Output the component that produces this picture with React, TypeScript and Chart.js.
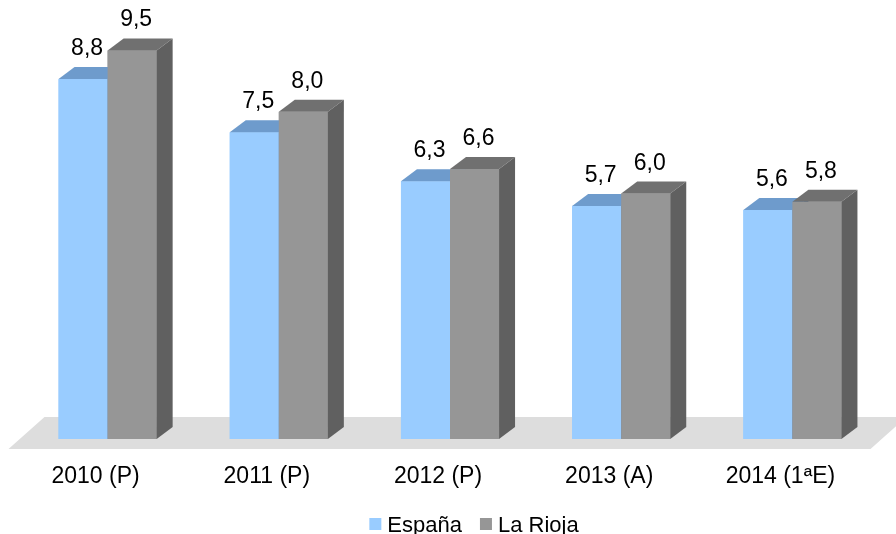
import React, { useEffect, useRef } from 'react';
import { Chart, registerables } from 'chart.js';

Chart.register(...registerables);

const categories = ['2010 (P)', '2011 (P)', '2012 (P)', '2013 (A)', '2014 (1ªE)'];
const espana = [8.8, 7.5, 6.3, 5.7, 5.6];
const laRioja = [9.5, 8.0, 6.6, 6.0, 5.8];
const seriesNames = ['España', 'La Rioja'];

const FONT = '"Liberation Sans", Arial, Helvetica, sans-serif';
const DX = 16;
const DY = 12;
const faces = [
  { front: '#99CCFF', top: '#6E9BCC', side: '#5D86B2' },
  { front: '#969696', top: '#707070', side: '#606060' },
];

const fmt = (v: number) => v.toFixed(1).replace('.', ',');

const bar3d = {
  id: 'bar3d',
  beforeDatasetsDraw(chart: any) {
    const { ctx, chartArea, scales } = chart;
    const base = scales.y.getPixelForValue(0);
    const l = chartArea.left;
    const r = chartArea.right;
    ctx.save();
    ctx.fillStyle = '#DDDDDD';
    ctx.beginPath();
    ctx.moveTo(l - 13.5, base + 10);
    ctx.lineTo(r - 7.5, base + 10);
    ctx.lineTo(r + 28.5, base - 22);
    ctx.lineTo(l + 22.5, base - 22);
    ctx.closePath();
    ctx.fill();
    ctx.restore();
  },
  afterDatasetsDraw(chart: any) {
    const ctx = chart.ctx;
    ctx.save();
    chart.data.datasets.forEach((ds: any, i: number) => {
      const meta = chart.getDatasetMeta(i);
      const c = faces[i];
      meta.data.forEach((el: any) => {
        const { x, y, base, width } = el.getProps(['x', 'y', 'base', 'width'], true);
        const L = x - width / 2;
        const R = x + width / 2;
        ctx.fillStyle = c.front;
        ctx.fillRect(L, y, width, base - y);
        ctx.fillStyle = c.top;
        ctx.beginPath();
        ctx.moveTo(L, y);
        ctx.lineTo(R, y);
        ctx.lineTo(R + DX, y - DY);
        ctx.lineTo(L + DX, y - DY);
        ctx.closePath();
        ctx.fill();
        ctx.fillStyle = c.side;
        ctx.beginPath();
        ctx.moveTo(R, y);
        ctx.lineTo(R + DX, y - DY);
        ctx.lineTo(R + DX, base - DY);
        ctx.lineTo(R, base);
        ctx.closePath();
        ctx.fill();
      });
    });
    ctx.font = `23px ${FONT}`;
    ctx.fillStyle = '#000000';
    ctx.textAlign = 'center';
    ctx.textBaseline = 'alphabetic';
    chart.data.datasets.forEach((ds: any, i: number) => {
      const meta = chart.getDatasetMeta(i);
      meta.data.forEach((el: any, j: number) => {
        const { x, y } = el.getProps(['x', 'y'], true);
        ctx.fillText(fmt(ds.data[j]), x + 4, y - DY - 12);
      });
    });
    ctx.restore();
  },
  afterDraw(chart: any) {
    const ctx = chart.ctx;
    ctx.save();
    ctx.font = `22px ${FONT}`;
    ctx.textBaseline = 'alphabetic';
    ctx.textAlign = 'left';
    const sq = 12;
    const gap = 6;
    const itemGap = 18;
    const widths = seriesNames.map((n) => ctx.measureText(n).width);
    const total = widths.reduce((a, w) => a + sq + gap + w, 0) + itemGap * (seriesNames.length - 1);
    let x = 474 - total / 2;
    const baseline = 531.5;
    seriesNames.forEach((n, i) => {
      ctx.fillStyle = faces[i].front;
      ctx.fillRect(x, 518, sq, sq);
      x += sq + gap;
      ctx.fillStyle = '#000000';
      ctx.fillText(n, x, baseline);
      x += widths[i] + itemGap;
    });
    ctx.restore();
  },
};

export default function App() {
  const ref = useRef<HTMLCanvasElement>(null);
  useEffect(() => {
    const chart = new Chart(ref.current as HTMLCanvasElement, {
      type: 'bar',
      data: {
        labels: categories,
        datasets: [
          { label: seriesNames[0], data: espana, backgroundColor: faces[0].front, borderWidth: 0 },
          { label: seriesNames[1], data: laRioja, backgroundColor: faces[1].front, borderWidth: 0 },
        ],
      },
      options: {
        responsive: false,
        devicePixelRatio: 1,
        animation: false,
        layout: { padding: { top: 20, left: 22, right: 18, bottom: 45 } },
        datasets: { bar: { categoryPercentage: 0.573, barPercentage: 1 } },
        plugins: { legend: { display: false }, tooltip: { enabled: false } },
        scales: {
          x: {
            grid: { display: false, drawTicks: false },
            border: { display: false },
            ticks: { font: { family: FONT, size: 23 }, color: '#000000', padding: 24, labelOffset: -12 },
            afterFit: (s: any) => { s.height = 50; },
          },
          y: { display: false, min: 0, max: 10.245 },
        },
      },
      plugins: [bar3d],
    } as any);
    return () => chart.destroy();
  }, []);
  return (
    <div style={{ position: 'fixed', left: 0, top: 0, width: 896, height: 534, background: '#ffffff' }}>
      <canvas ref={ref} width={896} height={534} style={{ display: 'block' }} />
    </div>
  );
}
